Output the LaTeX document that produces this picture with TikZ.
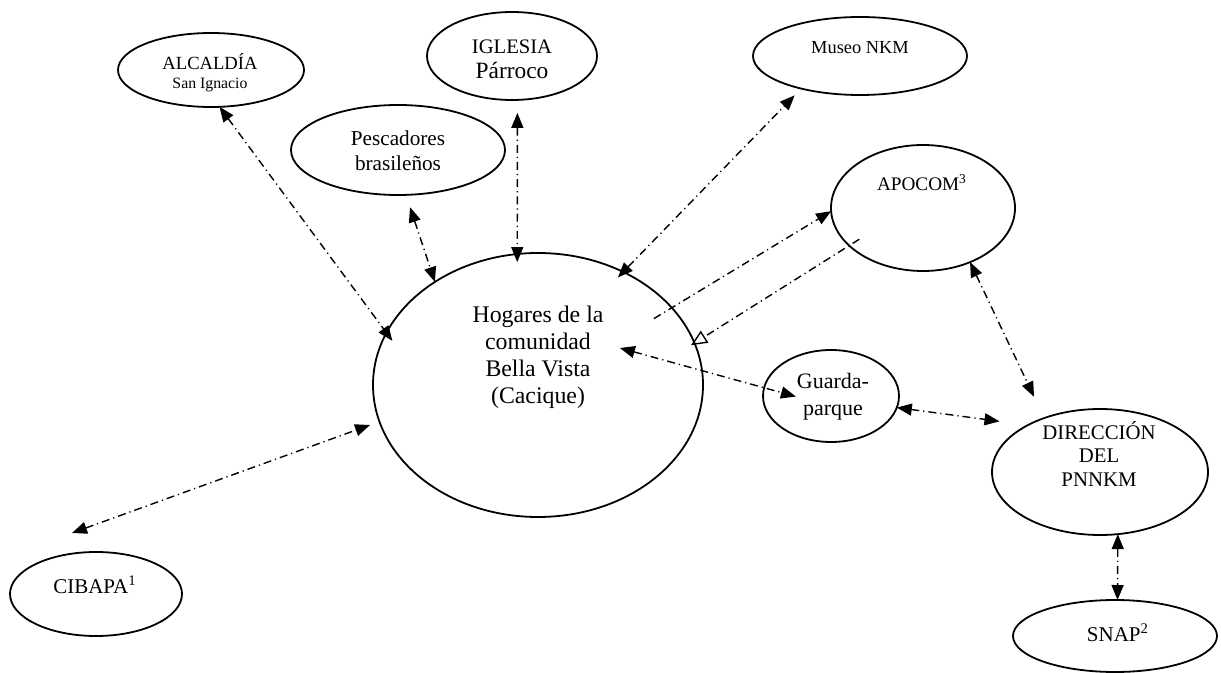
\documentclass[tikz,border=0pt]{standalone}
\usepackage{fontspec}
\setmainfont{Liberation Serif}
\usetikzlibrary{arrows.meta,shapes.geometric}
\begin{document}
\begin{tikzpicture}[x=0.5pt,y=-0.5pt,
  ell/.style={draw, ellipse, line width=0.9pt, inner sep=0pt, outer sep=0pt},
  txt/.style={align=center, inner sep=0pt},
  con/.style={line width=0.7pt, dash pattern=on 4pt off 2pt on 0.6pt off 2pt},
  both/.style={con, {Triangle[length=7.5pt,width=6pt]}-{Triangle[length=7.5pt,width=6pt]}},
  one/.style={con, -{Triangle[length=7.5pt,width=6pt]}},
  oneopen/.style={con, -{Triangle[open,length=8pt,width=7pt]}}
]
\path[fill=white] (0,0) rectangle (1221,673);
\useasboundingbox (0,0) rectangle (1221,673);

% ellipses
\node[ell, minimum width=93pt,  minimum height=37pt]  (alc)  at (211,70)  {};
\node[ell, minimum width=85pt,  minimum height=44pt]  (igl)  at (512,56)  {};
\node[ell, minimum width=107pt, minimum height=45pt]  (pes)  at (398,150) {};
\node[ell, minimum width=107pt, minimum height=39pt]  (mus)  at (860,56)  {};
\node[ell, minimum width=92pt,  minimum height=63pt]  (apo)  at (923,208) {};
\node[ell, minimum width=165pt, minimum height=132pt] (hog)  at (538,385) {};
\node[ell, minimum width=68pt,  minimum height=46pt]  (gua)  at (831,396) {};
\node[ell, minimum width=108pt, minimum height=63pt]  (dir)  at (1100,472) {};
\node[ell, minimum width=102pt, minimum height=36pt]  (snap) at (1115,636) {};
\node[ell, minimum width=86pt,  minimum height=42pt]  (cib)  at (96,594)  {};

% texts
\node[txt, font=\fontsize{9.3}{9.5}\selectfont] (alcT) at (210,73)
  {ALCALDÍA\\{\fontsize{7.9}{9.5}\selectfont San Ignacio}};
\node[txt, font=\fontsize{10.3}{12.5}\selectfont] (iglT) at (512,59.5)
  {IGLESIA\\{\fontsize{11.7}{12.5}\selectfont Párroco}};
\node[txt, font=\fontsize{10.6}{12.5}\selectfont] (pesT) at (398,150.5)
  {Pescadores\\brasileños};
\node[txt, font=\fontsize{9.2}{11}\selectfont] (musT) at (860,48) {Museo NKM};
\node[txt, font=\fontsize{9.6}{11}\selectfont] (apoT) at (922,183) {APOCOM\textsuperscript{3}};
\node[txt, font=\fontsize{11.9}{13.5}\selectfont] (hogT) at (538,357.5)
  {Hogares de la\\comunidad\\Bella Vista\\(Cacique)};
\node[txt, font=\fontsize{11}{13.5}\selectfont] (guaT) at (833,396.5) {Guarda-\\parque};
\node[txt, font=\fontsize{10.4}{11.75}\selectfont] (dirT) at (1099,454) {DIRECCIÓN\\DEL\\PNNKM};
\node[txt, font=\fontsize{10.5}{12}\selectfont] (snapT) at (1118,633) {SNAP\textsuperscript{2}};
\node[txt, font=\fontsize{10.5}{12}\selectfont] (cibT) at (95,585) {CIBAPA\textsuperscript{1}};

% connectors
\draw[both, shorten >=-5pt] (alc.-77) -- (hog.161.4);
\draw[both, shorten <=6.5pt] (pes.-80) -- (hog.135.5);
\draw[both, shorten <=6.5pt, shorten >=-4pt] (igl.-83.5) -- (hog.99.1);
\draw[both, shorten <=-3.8pt, shorten >=4.7pt] (hog.53.4) -- (mus.-151.9);
\draw[one, shorten <=-10.5pt] (hog.30.3) -- (apo.182.5);
\draw[oneopen, shorten <=-6pt, shorten >=-2pt] (apo.207.6) -- (hog.15.8);
\draw[both, shorten <=-42.6pt, shorten >=-16.5pt] (hog.5.3) -- (gua.173);
\draw[both, shorten >=14.3pt] (gua.-10.3) -- (dir.147.9);
\draw[both, shorten >=11.8pt] (apo.-49) -- (dir.136.8);
\draw[both] (dir.-74.7) -- (snap.86.8);
\draw[both, shorten >=5pt] ([shift={(-24,-19)}]cib.north) -- (hog.193);
\end{tikzpicture}
\end{document}
